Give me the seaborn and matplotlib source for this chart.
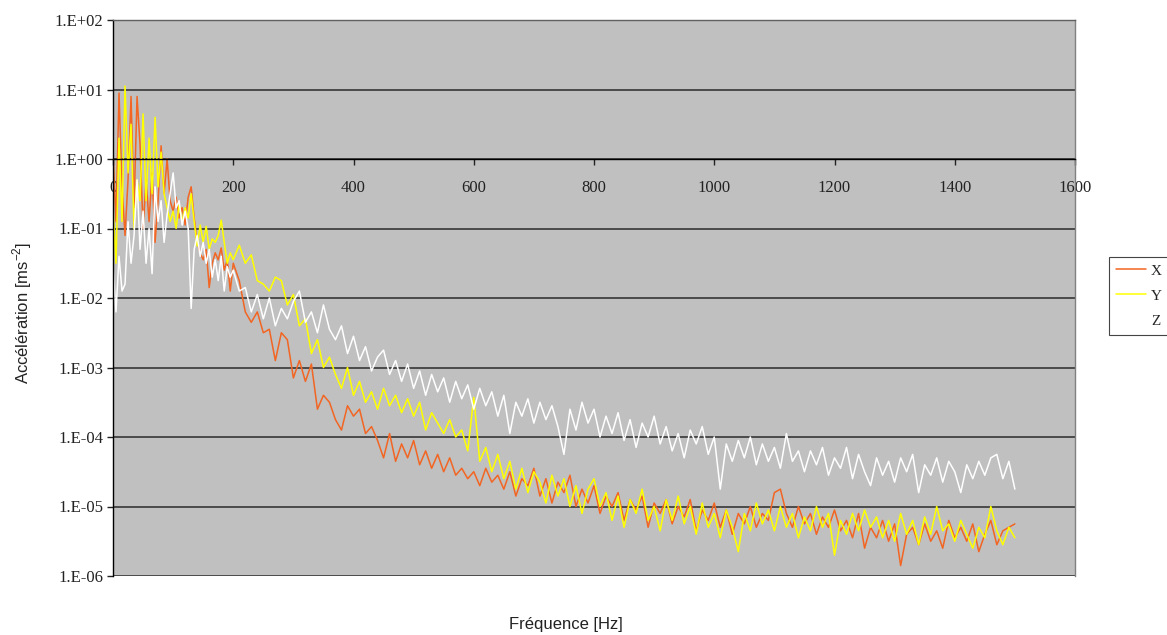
import numpy as np
import pandas as pd
import matplotlib
matplotlib.use('Agg')
import matplotlib.pyplot as plt
import seaborn as sns
from matplotlib.ticker import FixedLocator, FuncFormatter, NullLocator

sns.set_style('white')
plt.rcParams['font.family'] = ['Liberation Serif', 'DejaVu Serif']

# frequency grid [Hz]: 5 Hz steps below 200 Hz, 10 Hz steps above
freq = list(range(0, 200, 5)) + list(range(200, 1501, 10))

# acceleration, stored as log10 exponents (1e-3 -> -3)
x_exp = [
    # 0 - 195 Hz
    0.10, -0.90, 0.95, -0.40, -1.10, -0.30, 0.90, -0.70, 0.90, 0.20,
    -1.00, -0.30, -0.90, -0.20, -1.20, -0.60, 0.19, -0.50, 0.00, -0.60,
    -0.75, -0.55, -0.85, -0.70, -0.95, -0.55, -0.40, -0.85, -1.20, -1.35,
    -1.45, -1.30, -1.85, -1.50, -1.35, -1.45, -1.28, -1.60, -1.45, -1.90,
    # 200 - 1500 Hz
    -1.50, -1.75, -2.20, -2.35, -2.20, -2.50, -2.45, -2.90, -2.50, -2.60,
    -3.15, -2.90, -3.20, -2.95, -3.60, -3.40, -3.50, -3.75, -3.90, -3.55,
    -3.70, -3.60, -3.95, -3.85, -4.05, -4.30, -3.95, -4.35, -4.10, -4.30,
    -4.05, -4.40, -4.20, -4.45, -4.25, -4.50, -4.30, -4.55, -4.45, -4.60,
    -4.50, -4.70, -4.45, -4.65, -4.55, -4.75, -4.50, -4.85, -4.60, -4.70,
    -4.45, -4.85, -4.60, -4.95, -4.65, -4.80, -4.55, -5.00, -4.75, -4.95,
    -4.70, -5.10, -4.85, -5.00, -4.80, -5.20, -4.90, -5.05, -4.85, -5.30,
    -4.95, -5.10, -4.90, -5.25, -5.00, -5.15, -4.90, -5.35, -5.05, -5.20,
    -4.95, -5.30, -5.05, -5.40, -5.10, -5.25, -5.00, -5.30, -5.10, -5.20,
    -4.80, -4.75, -5.10, -5.30, -5.00, -5.25, -5.10, -5.40, -5.15, -5.30,
    -5.05, -5.35, -5.20, -5.45, -5.10, -5.60, -5.30, -5.45, -5.20, -5.50,
    -5.25, -5.85, -5.40, -5.30, -5.55, -5.25, -5.50, -5.35, -5.60, -5.20,
    -5.45, -5.30, -5.50, -5.25, -5.65, -5.40, -5.20, -5.55, -5.35, -5.30,
    -5.25,
]

y_exp = [
    # 0 - 195 Hz
    -0.70, -1.50, 0.30, -0.90, 1.05, -0.20, 0.50, -1.00, -0.30, -0.60,
    0.65, -0.60, 0.30, -0.50, 0.60, -0.40, 0.10, -0.50, -0.70, -0.90,
    -0.75, -1.00, -0.65, -0.90, -0.70, -0.85, -0.50, -0.90, -1.25, -0.95,
    -1.20, -0.97, -1.30, -1.15, -1.20, -1.10, -0.88, -1.20, -1.50, -1.35,
    # 200 - 1500 Hz
    -1.45, -1.24, -1.50, -1.38, -1.75, -1.80, -1.90, -1.70, -1.75, -2.10,
    -1.95, -2.40, -2.30, -2.80, -2.60, -3.00, -2.85, -3.10, -3.30, -3.00,
    -3.40, -3.20, -3.50, -3.35, -3.60, -3.30, -3.55, -3.40, -3.65, -3.45,
    -3.70, -3.50, -3.90, -3.65, -3.80, -3.95, -3.75, -4.00, -3.90, -4.20,
    -3.43, -4.35, -4.15, -4.50, -4.25, -4.60, -4.35, -4.75, -4.45, -4.80,
    -4.50, -4.65, -4.95, -4.55, -4.85, -4.60, -5.00, -4.70, -5.10, -4.75,
    -4.60, -5.00, -4.80, -5.20, -4.85, -5.30, -4.90, -5.10, -4.75, -5.20,
    -5.00, -5.35, -4.90, -5.20, -4.85, -5.25, -5.00, -5.40, -4.95, -5.30,
    -5.10, -5.45, -5.05, -5.30, -5.65, -5.10, -5.35, -4.95, -5.25, -5.05,
    -5.35, -5.00, -5.30, -5.10, -5.45, -5.15, -5.35, -5.00, -5.30, -5.10,
    -5.70, -5.20, -5.40, -5.10, -5.35, -5.05, -5.30, -5.15, -5.45, -5.20,
    -5.50, -5.10, -5.40, -5.20, -5.55, -5.15, -5.40, -5.00, -5.35, -5.25,
    -5.50, -5.20, -5.40, -5.60, -5.30, -5.45, -5.00, -5.35, -5.55, -5.30,
    -5.45,
]

z_exp = [
    # 0 - 195 Hz
    -1.55, -2.20, -1.40, -1.90, -1.80, -0.90, -1.50, -1.10, -0.30, -1.30,
    -0.75, -1.50, -1.00, -1.65, -0.40, -0.90, -0.60, -1.20, -0.80, -0.50,
    -0.20, -0.70, -0.60, -0.95, -0.75, -1.00, -2.15, -1.30, -1.10, -1.40,
    -1.20, -1.50, -1.30, -1.70, -1.45, -1.75, -1.40, -1.90, -1.55, -1.70,
    # 200 - 1500 Hz
    -1.60, -1.90, -1.85, -2.20, -1.95, -2.30, -2.00, -2.40, -2.15, -2.30,
    -2.05, -1.90, -2.35, -2.20, -2.50, -2.10, -2.45, -2.60, -2.40, -2.80,
    -2.55, -2.90, -2.70, -3.05, -2.85, -2.75, -3.10, -2.90, -3.20, -2.95,
    -3.30, -3.05, -3.40, -3.10, -3.35, -3.15, -3.50, -3.20, -3.45, -3.25,
    -3.60, -3.30, -3.55, -3.35, -3.70, -3.40, -3.95, -3.50, -3.70, -3.45,
    -3.80, -3.50, -3.75, -3.55, -3.85, -4.25, -3.60, -3.90, -3.50, -3.80,
    -3.60, -4.00, -3.70, -3.95, -3.65, -4.05, -3.75, -4.15, -3.80, -4.00,
    -3.70, -4.10, -3.85, -4.20, -3.95, -4.30, -3.90, -4.10, -3.85, -4.25,
    -4.00, -4.75, -4.10, -4.35, -4.05, -4.30, -4.00, -4.40, -4.10, -4.35,
    -4.15, -4.45, -3.95, -4.35, -4.20, -4.50, -4.20, -4.40, -4.15, -4.55,
    -4.30, -4.45, -4.15, -4.60, -4.25, -4.50, -4.70, -4.30, -4.55, -4.35,
    -4.65, -4.30, -4.50, -4.25, -4.80, -4.40, -4.55, -4.30, -4.65, -4.35,
    -4.50, -4.80, -4.40, -4.60, -4.35, -4.55, -4.30, -4.25, -4.60, -4.35,
    -4.75,
]

series = ['X', 'Y', 'Z']
colors = {'X': '#F26522', 'Y': '#FFFF00', 'Z': '#FFFFFF'}

df = pd.DataFrame({
    'freq': freq * 3,
    'acc': 10.0 ** np.array(x_exp + y_exp + z_exp),
    'axe': [s for s in series for _ in freq],
})

fig = plt.figure(figsize=(11.67, 6.35), dpi=100)
ax = fig.add_axes([113 / 1167, 1 - 576 / 635, (1075 - 113) / 1167, (576 - 20) / 635])
ax.set_facecolor('#C0C0C0')

sns.lineplot(data=df, x='freq', y='acc', hue='axe', hue_order=series,
             palette=colors, estimator=None, linewidth=1.1, ax=ax)
handles, labels = ax.get_legend_handles_labels()
ax.get_legend().remove()

ax.set_yscale('log')
ax.set_ylim(1e-6, 1e2)
ax.set_xlim(0, 1600)
ax.yaxis.set_major_locator(FixedLocator([10.0 ** k for k in range(-6, 3)]))
ax.yaxis.set_minor_locator(NullLocator())
ax.yaxis.set_major_formatter(FuncFormatter(lambda v, _: '1.E%+03d' % round(np.log10(v))))
ax.set_xticks(range(0, 1601, 200))

#grid + axes lines
ax.set_axisbelow(True)
ax.grid(axis='y', color='#2a2a2a', linewidth=1.1)
ax.grid(axis='x', visible=False)
ax.spines['bottom'].set_position(('data', 1))
ax.spines['bottom'].set_color('black')
ax.spines['left'].set_color('black')
ax.spines['top'].set_color('#606060')
ax.spines['right'].set_color('#808080')
for s in ax.spines.values():
    s.set_linewidth(1.0)
ax.tick_params(axis='x', direction='out', length=4, width=1, pad=11,
               labelsize=12, bottom=True, colors='#222222')
ax.tick_params(axis='y', direction='out', length=4, width=1, pad=3,
               labelsize=12, left=True, colors='#222222')
ax.set_xlabel('')
ax.set_ylabel('')

fig.text(566 / 1167, 1 - 624 / 635, 'Fréquence [Hz]', ha='center', va='center',
         fontsize=12, family=['Liberation Sans', 'DejaVu Sans'], color='#222222')
fig.text(22 / 1167, 1 - 313 / 635, 'Accélération [ms$^{\\mathregular{-2}}$]', ha='center', va='center',
         rotation=90, fontsize=12, family=['Liberation Sans', 'DejaVu Sans'], color='#222222')

leg = fig.legend(handles, labels, loc='upper left', bbox_to_anchor=(1109 / 1167, 1 - 257 / 635),
                 frameon=True, fancybox=False, framealpha=1, edgecolor='#444444',
                 borderaxespad=0, handlelength=2.0, handletextpad=0.3,
                 labelspacing=0.75, borderpad=0.45, fontsize=11)
leg.get_frame().set_linewidth(0.8)

fig.savefig('out.png', dpi=100)
